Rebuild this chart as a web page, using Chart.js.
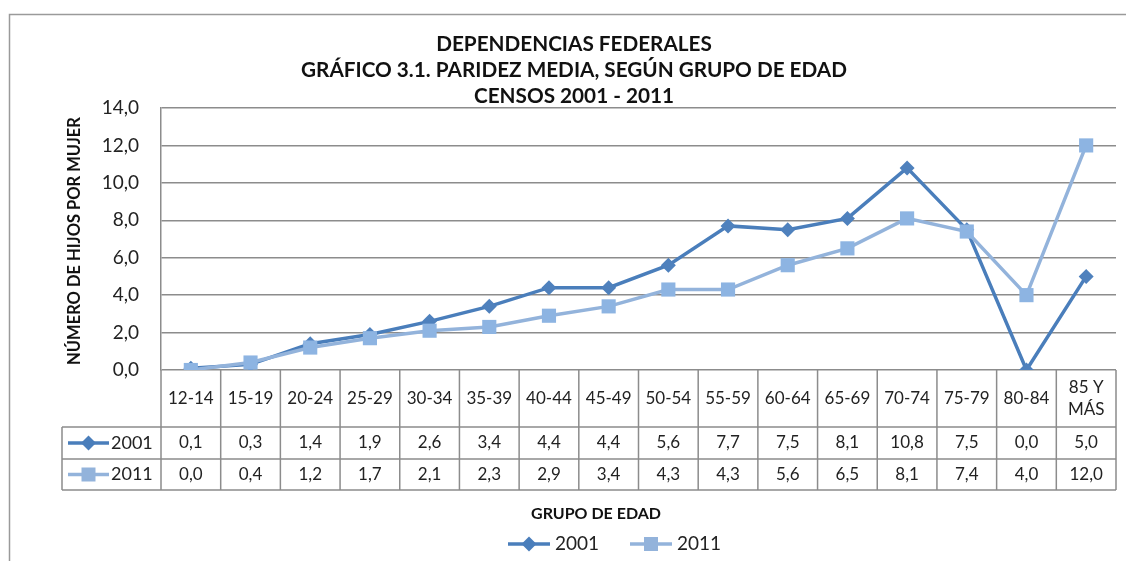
<!DOCTYPE html>
<html>
<head>
<meta charset="utf-8">
<script src="https://cdn.jsdelivr.net/npm/chart.js@4.4.0/dist/chart.umd.min.js"></script>
<style>
    html, body { margin: 0; padding: 0; background: #fff; }
    #wrap { width: 1126px; height: 561px; }
</style>
</head>
<body>
<div id="wrap"><canvas id="chart" width="1126" height="561"></canvas></div>
<script>
// Data
const categories = ['12-14', '15-19', '20-24', '25-29', '30-34', '35-39', '40-44', '45-49',
    '50-54', '55-59', '60-64', '65-69', '70-74', '75-79', '80-84', '85 Y\nMÁS'];
const values2001 = [0.1, 0.3, 1.4, 1.9, 2.6, 3.4, 4.4, 4.4, 5.6, 7.7, 7.5, 8.1, 10.8, 7.5, 0.0, 5.0];
const values2011 = [0.0, 0.4, 1.2, 1.7, 2.1, 2.3, 2.9, 3.4, 4.3, 4.3, 5.6, 6.5, 8.1, 7.4, 4.0, 12.0];
const seriesNames = ['2001', '2011'];
const titleLines = ['DEPENDENCIAS FEDERALES', 'GRÁFICO 3.1. PARIDEZ MEDIA, SEGÚN GRUPO DE EDAD', 'CENSOS 2001 - 2011'];
const yTitle = 'NÚMERO DE HIJOS POR MUJER';
const xTitle = 'GRUPO DE EDAD';

const FONT = 'Lato, "Open Sans", sans-serif';
const DARK = '#4A7EBB';
const LIGHT = '#93B3DB';
const GRID = '#8c8c8c';

const fmt = v => v.toFixed(1).replace('.', ',');

// font size so that text spans roughly the given width
function fitSize(ctx, text, width, weight) {
    ctx.font = weight + ' 20px ' + FONT;
    return 20 * width / ctx.measureText(text).width;
}

function drawMarker(ctx, style, x, y, color) {
    ctx.fillStyle = color;
    ctx.beginPath();
    if (style === 'diamond') {
        const r = 7.5;
        ctx.moveTo(x - r, y); ctx.lineTo(x, y - r); ctx.lineTo(x + r, y); ctx.lineTo(x, y + r);
    } else {
        const s = 7;
        ctx.rect(x - s, y - s, 2 * s, 2 * s);
    }
    ctx.closePath();
    ctx.fill();
}

function legendSample(ctx, x1, x2, y, color, style) {
    ctx.strokeStyle = color;
    ctx.lineWidth = 3.5;
    ctx.beginPath(); ctx.moveTo(x1, y); ctx.lineTo(x2, y); ctx.stroke();
    drawMarker(ctx, style, (x1 + x2) / 2, y, color);
}

const decorPlugin = {
    id: 'decor',
    beforeDraw(chart) {
        const ctx = chart.ctx;
        ctx.save();
        ctx.strokeStyle = '#9a9a9a';
        ctx.lineWidth = 1.5;
        ctx.strokeRect(9.5, 14.5, 1140, 600);
        ctx.restore();
    },
    afterDraw(chart) {
        const ctx = chart.ctx;
        const area = chart.chartArea;
        const xs = chart.scales.x;
        const colW = (area.right - area.left) / categories.length;
        ctx.save();

        // titles
        ctx.fillStyle = '#111';
        ctx.textAlign = 'center';
        ctx.textBaseline = 'middle';
        const tSize = fitSize(ctx, titleLines[1], 546, 'bold');
        ctx.font = 'bold ' + tSize + 'px ' + FONT;
        titleLines.forEach((t, i) => ctx.fillText(t, 574, 44 + i * 26));

        // y axis title
        ctx.save();
        ctx.translate(75, 241);
        ctx.rotate(-Math.PI / 2);
        const ySize = fitSize(ctx, yTitle, 248, 'bold');
        ctx.font = 'bold ' + ySize + 'px ' + FONT;
        ctx.fillText(yTitle, 0, 0);
        ctx.restore();

        // data table
        const yTop = area.bottom, yR1 = 427, yR2 = 459, yEnd = 490, xLeg = 62;
        ctx.strokeStyle = GRID;
        ctx.lineWidth = 1.5;
        ctx.beginPath();
        for (let i = 0; i <= categories.length; i++) {
            const x = area.left + i * colW;
            ctx.moveTo(x, yTop); ctx.lineTo(x, yEnd);
        }
        ctx.moveTo(xLeg, yR1); ctx.lineTo(xLeg, yEnd);
        [yR1, yR2, yEnd].forEach(y => { ctx.moveTo(xLeg, y); ctx.lineTo(area.right, y); });
        ctx.stroke();

        ctx.fillStyle = '#222';
        ctx.font = '17px ' + FONT;
        categories.forEach((c, i) => {
            const x = xs.getPixelForValue(i);
            const parts = c.split('\n');
            if (parts.length === 1) {
                ctx.fillText(c, x, (yTop + yR1) / 2);
            } else {
                ctx.fillText(parts[0], x, (yTop + yR1) / 2 - 11);
                ctx.fillText(parts[1], x, (yTop + yR1) / 2 + 11);
            }
            ctx.fillText(fmt(values2001[i]), x, (yR1 + yR2) / 2);
            ctx.fillText(fmt(values2011[i]), x, (yR2 + yEnd) / 2);
        });

        // legend keys inside table
        legendSample(ctx, 68, 109, (yR1 + yR2) / 2, DARK, 'diamond');
        legendSample(ctx, 68, 109, (yR2 + yEnd) / 2, LIGHT, 'square');
        ctx.fillStyle = '#222';
        ctx.textAlign = 'left';
        ctx.font = '18px ' + FONT;
        ctx.fillText(seriesNames[0], 111, (yR1 + yR2) / 2);
        ctx.fillText(seriesNames[1], 111, (yR2 + yEnd) / 2);

        // x axis title
        ctx.textAlign = 'center';
        ctx.fillStyle = '#111';
        ctx.font = 'bold 16px ' + FONT;
        ctx.fillText(xTitle, 596, 514);

        // bottom legend
        legendSample(ctx, 508, 550, 544, DARK, 'diamond');
        legendSample(ctx, 630, 672, 544, LIGHT, 'square');
        ctx.fillStyle = '#222';
        ctx.textAlign = 'left';
        ctx.font = '19px ' + FONT;
        ctx.fillText(seriesNames[0], 555, 544);
        ctx.fillText(seriesNames[1], 677, 544);

        ctx.restore();
    }
};

const ctx = document.getElementById('chart').getContext('2d');
new Chart(ctx, {
    type: 'line',
    data: {
        labels: categories,
        datasets: [{
            label: seriesNames[0],
            data: values2001,
            borderColor: DARK,
            backgroundColor: '#4F81BD',
            borderWidth: 3.5,
            pointStyle: 'rectRot',
            pointRadius: 7.5,
            pointBorderWidth: 0,
            tension: 0,
            order: 2
        }, {
            label: seriesNames[1],
            data: values2011,
            borderColor: LIGHT,
            backgroundColor: '#8DB4E2',
            borderWidth: 3.5,
            pointStyle: 'rect',
            pointRadius: 10,
            pointBorderWidth: 0,
            tension: 0,
            order: 1
        }]
    },
    options: {
        responsive: false,
        animation: false,
        devicePixelRatio: 1,
        layout: { padding: { left: 10, right: 5, top: 108, bottom: 183 } },
        plugins: {
            legend: { display: false },
            title: { display: false },
            tooltip: { enabled: false }
        },
        scales: {
            x: {
                offset: true,
                ticks: { display: false },
                grid: { display: false },
                border: { display: false }
            },
            y: {
                min: 0,
                max: 14,
                afterFit: s => { s.width = 151; },
                ticks: {
                    stepSize: 2,
                    padding: 22,
                    color: '#222',
                    font: { family: FONT, size: 19 },
                    callback: v => fmt(v)
                },
                grid: { color: GRID, lineWidth: 1.5, drawTicks: false },
                border: { color: GRID, width: 1.5 }
            }
        }
    },
    plugins: [decorPlugin]
});
</script>
</body>
</html>
